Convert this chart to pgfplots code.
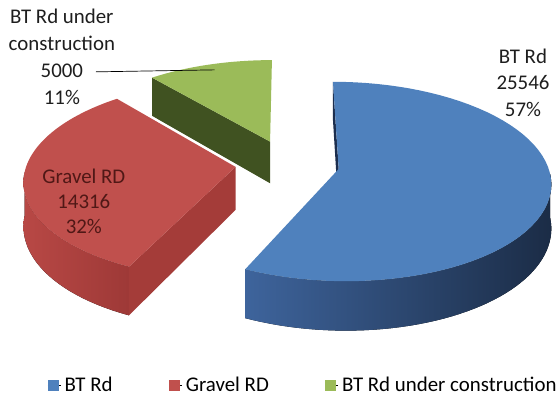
\documentclass[border=0pt]{standalone}
\usepackage{pgfplots}
\pgfplotsset{compat=1.18}
\usepackage{pgfplotstable}
\usepackage{fontspec}
\setmainfont{Carlito}

\definecolor{bluetop}{RGB}{79,129,189}
\definecolor{bluewallL}{RGB}{62,100,156}
\definecolor{bluewallM}{RGB}{42,70,110}
\definecolor{bluewallR}{RGB}{27,44,70}
\definecolor{bluecut}{RGB}{28,46,78}
\definecolor{redtop}{RGB}{192,80,77}
\definecolor{redwallL}{RGB}{184,72,69}
\definecolor{redwallR}{RGB}{158,57,55}
\definecolor{redcut}{RGB}{164,60,57}
\definecolor{greentop}{RGB}{155,187,89}
\definecolor{greencut}{RGB}{64,82,33}
\definecolor{gravtext}{RGB}{80,24,22}
\definecolor{labtext}{RGB}{30,30,30}

\pgfplotstableread{
name value
BT 25546
Gravel 14316
UC 5000
}\piedata
\pgfplotstablegetelem{0}{value}\of\piedata \edef\vA{\pgfplotsretval}
\pgfplotstablegetelem{1}{value}\of\piedata \edef\vB{\pgfplotsretval}
\pgfplotstablegetelem{2}{value}\of\piedata \edef\vC{\pgfplotsretval}

\edef\aA{\fpeval{360*\vA/(\vA+\vB+\vC)}}
\edef\aB{\fpeval{\aA+360*\vB/(\vA+\vB+\vC)}}
\edef\bisA{\fpeval{\aA/2}}
\edef\bisB{\fpeval{(\aA+\aB)/2}}
\edef\bisC{\fpeval{(\aB+360)/2}}

% projection parameters (pixels)
\def\CX{288}\def\CY{164}\def\R{209}\def\B{97}\def\P{0.125}\def\T{43}\def\E{0.25}\def\H{407}

\newcommand\proj[4]{%
 \edef\X{\fpeval{\E*sind(#3)+(#2)*sind(#1)}}%
 \edef\Z{\fpeval{-\E*cosd(#3)-(#2)*cosd(#1)}}%
 \edef\W{\fpeval{1-\P*(\Z)}}%
 \edef\SX{\fpeval{round(\CX+\R*(\X)/(\W),2)}}%
 \edef\SY{\fpeval{round(\H-(\CY+(\B*(\Z)+(#4)*\T)/(\W)),2)}}%
}
\newcommand\addarc[5]{%
 \foreach \i in {0,...,#5}{%
  \edef\ang{\fpeval{#1+(#2-(#1))*\i/#5}}%
  \proj{\ang}{1}{#3}{#4}%
  \xdef\acc{\acc -- (axis cs:\SX,\SY)}%
 }%
}
\newcommand\mktop[4]{%
 \proj{0}{0}{#3}{0}\xdef\acc{(axis cs:\SX,\SY)}%
 \addarc{#1}{#2}{#3}{0}{60}%
 \global\let#4\acc
}
\newcommand\mkwall[4]{%
 \proj{#1}{1}{#3}{0}\xdef\acc{(axis cs:\SX,\SY)}%
 \addarc{#1}{#2}{#3}{0}{50}%
 \addarc{#2}{#1}{#3}{1}{50}%
 \global\let#4\acc
}
\newcommand\mkcut[3]{%
 \proj{0}{0}{#2}{0}\xdef\acc{(axis cs:\SX,\SY)}%
 \proj{#1}{1}{#2}{0}\xdef\acc{\acc -- (axis cs:\SX,\SY)}%
 \proj{#1}{1}{#2}{1}\xdef\acc{\acc -- (axis cs:\SX,\SY)}%
 \proj{0}{0}{#2}{1}\xdef\acc{\acc -- (axis cs:\SX,\SY)}%
 \global\let#3\acc
}

\mktop{0}{\aA}{\bisA}\bTop
\mkwall{93}{\aA}{\bisA}\bWall
\mkcut{0}{\bisA}\bCut
\mktop{\aA}{\aB}{\bisB}\rTop
\mkwall{\aA}{267}{\bisB}\rWall
\mkcut{\aA}{\bisB}\rCut
\mktop{\aB}{360}{\bisC}\gTop
\mkcut{\aB}{\bisC}\gCut

\begin{document}
\begin{tikzpicture}
\begin{axis}[
  scale only axis, width=560bp, height=407bp,
  xmin=0, xmax=560, ymin=0, ymax=407,
  hide axis, clip=false,
  legend columns=-1,
  legend style={at={(0.085,0.052)}, anchor=west, draw=none, fill=none,
    inner sep=0pt, font=\fontsize{21}{25}\selectfont,
    /tikz/every even column/.append style={column sep=53bp},
    nodes={inner xsep=3.5bp, inner ysep=0bp}},
  legend cell align=left,
]
\path (axis cs:0,0) rectangle (axis cs:560,407);
% green slice (back)
\fill[greencut] \gCut -- cycle;
\fill[greentop] \gTop -- cycle;
% gravel slice
\fill[left color=redwallL, right color=redwallR] \rWall -- cycle;
\fill[redcut] \rCut -- cycle;
\fill[redtop] \rTop -- cycle;
% blue slice
\fill[bluecut] \bCut -- cycle;
\fill[left color=bluewallL, middle color=bluewallM, right color=bluewallR] \bWall -- cycle;
\fill[bluetop] \bTop -- cycle;

% labels
\node[align=center, text=labtext, font=\fontsize{21}{26.5}\selectfont] at (axis cs:524,324) {BT Rd\\25546\\57\%};
\node[align=center, text=gravtext, font=\fontsize{21}{25}\selectfont] at (axis cs:84,205) {Gravel RD\\14316\\32\%};
\node[align=center, text=labtext, font=\fontsize{21}{27}\selectfont] at (axis cs:62,350) {BT Rd under\\construction\\5000\\11\%};
\draw[black, line width=0.7bp] (axis cs:96,335) -- (axis cs:215,337);

\addlegendimage{legend image code/.code={\path (0bp,0bp) -- (13bp,0bp);\fill[bluetop] (0bp,-5bp) rectangle (10bp,5bp);}}
\addlegendentry{BT Rd}
\addlegendimage{legend image code/.code={\path (0bp,0bp) -- (13bp,0bp);\fill[redtop] (0bp,-5bp) rectangle (10bp,5bp);}}
\addlegendentry{Gravel RD}
\addlegendimage{legend image code/.code={\path (0bp,0bp) -- (13bp,0bp);\fill[greentop] (0bp,-5bp) rectangle (10bp,5bp);}}
\addlegendentry{BT Rd under construction}
\end{axis}
\end{tikzpicture}
\end{document}
